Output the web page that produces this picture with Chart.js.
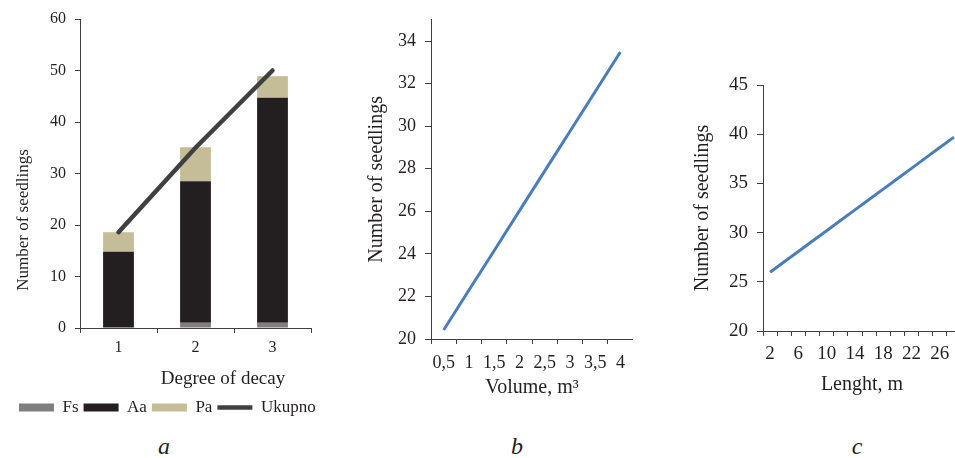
<!DOCTYPE html>
<html>
<head>
<meta charset="utf-8">
<script src="https://cdn.jsdelivr.net/npm/chart.js@4.4.1/dist/chart.umd.min.js"></script>
<style>
  body { margin: 0; background: #fff; }
  #wrap { position: relative; width: 955px; height: 458px; overflow: hidden; background: #fff;
          font-family: 'Liberation Serif', 'Times New Roman', serif; color: #231f20; }
  canvas { position: absolute; top: 0; }
  .txt { position: absolute; text-align: center; white-space: nowrap; }
  .panel { font-style: italic; font-size: 24px; line-height: 28px; width: 40px; top: 432px; }
</style>
</head>
<body>
<div id="wrap">
  <canvas id="chartA" width="340" height="430" style="left:0"></canvas>
  <canvas id="chartB" width="293" height="400" style="left:340px"></canvas>
  <canvas id="chartC" width="301" height="397" style="left:660px"></canvas>

  <div class="txt" style="left:-77px;top:210px;width:200px;font-size:17px;line-height:20px;transform:rotate(-90deg)">Number of seedlings</div>
  <div class="txt" style="left:123px;top:367px;width:200px;font-size:19px;line-height:22px">Degree of decay</div>

  <div class="txt panel" style="left:144px">a</div>
  <div class="txt panel" style="left:497px">b</div>
  <div class="txt panel" style="left:837px">c</div>
</div>

<script>
// a - seedlings per degree of decay
const decayDegrees = ['1', '2', '3'];
const fsValues = [0, 1, 1];
const aaValues = [14.8, 27.5, 43.7];
const paValues = [3.8, 6.6, 4.2];
const ukupnoValues = [18.6, 35.0, 50];

// b - seedlings vs volume
const volumeLabels = ['0,5', '1', '1,5', '2', '2,5', '3', '3,5', '4'];
const volumeSeedlings = [20.42, 22.29, 24.15, 26.02, 27.89, 29.75, 31.62, 33.49];

// c - seedlings vs length
const lengthLabels = ['2', '4', '6', '8', '10', '12', '14', '16', '18', '20', '22', '24', '26', '28'];
const lengthSeedlings = [25.97, 27.03, 28.08, 29.14, 30.19, 31.25, 32.31, 33.36, 34.42, 35.47, 36.53, 37.59, 38.64, 39.70];

const axisColor = '#404040';
const textColor = '#231f20';
Chart.defaults.font.family = "'Liberation Serif', 'Times New Roman', serif";
Chart.defaults.color = textColor;
Chart.defaults.animation = false;

function tickGrid(len) {
  return { display: true, drawOnChartArea: false, drawTicks: true, tickLength: len, color: axisColor };
}

// panel a
new Chart(document.getElementById('chartA'), {
  type: 'bar',
  data: {
    labels: decayDegrees,
    datasets: [
      { label: 'Fs', data: fsValues, backgroundColor: '#7f7f7f', pointStyle: 'rect', order: 1 },
      { label: 'Aa', data: aaValues, backgroundColor: '#231f20', pointStyle: 'rect', order: 1 },
      { label: 'Pa', data: paValues, backgroundColor: '#c4bd97', pointStyle: 'rect', order: 1 },
      {
        type: 'line', label: 'Ukupno', data: ukupnoValues, stack: 'total',
        borderColor: '#404040', backgroundColor: '#404040', borderWidth: 4.5,
        borderCapStyle: 'round', pointRadius: 0, pointStyle: 'line', tension: 0, order: 0
      }
    ]
  },
  options: {
    responsive: false,
    layout: { padding: { left: 14, right: 0, top: 19, bottom: 4 } },
    datasets: { bar: { categoryPercentage: 1, barPercentage: 0.4 } },
    plugins: {
      tooltip: { enabled: false },
      legend: {
        position: 'bottom', align: 'start',
        labels: { usePointStyle: true, pointStyleWidth: 35, boxHeight: 8, padding: 5,
                  font: { size: 17 }, color: textColor,
                  sort: (a, b) => a.datasetIndex - b.datasetIndex }
      }
    },
    scales: {
      x: {
        stacked: true,
        grid: Object.assign(tickGrid(5), { offset: true }),
        border: { color: axisColor },
        ticks: { font: { size: 16 }, padding: 5, maxRotation: 0 },
        afterFit: s => { s.height = 66; }
      },
      y: {
        stacked: true, min: 0, max: 60,
        grid: tickGrid(5),
        border: { color: axisColor },
        ticks: { stepSize: 10, font: { size: 16 }, padding: 9 },
        afterFit: s => { s.width = 66; }
      },
      yR: {
        position: 'right',
        grid: { display: false }, border: { display: false }, ticks: { display: false },
        afterFit: s => { s.width = 29; }
      }
    }
  }
});

// panel b
new Chart(document.getElementById('chartB'), {
  type: 'line',
  data: {
    labels: volumeLabels,
    datasets: [{ label: 'Number of seedlings', data: volumeSeedlings, borderColor: '#4a7ebb',
                 borderWidth: 3, pointRadius: 0, tension: 0 }]
  },
  options: {
    responsive: false,
    layout: { padding: { left: 0, right: 0, top: 17, bottom: 0 } },
    plugins: { legend: { display: false }, tooltip: { enabled: false } },
    scales: {
      x: {
        offset: true,
        grid: Object.assign(tickGrid(5), { offset: true }),
        border: { color: axisColor },
        ticks: { font: { size: 18 }, padding: 8, autoSkip: false, maxRotation: 0 },
        title: { display: true, text: 'Volume, m³', font: { size: 20 }, padding: { top: 0, bottom: 0 } },
        afterFit: s => { s.height = 61; }
      },
      y: {
        min: 20, max: 35,
        grid: tickGrid(6),
        border: { color: axisColor },
        ticks: { stepSize: 2, includeBounds: false, font: { size: 18 }, padding: 9 },
        title: { display: true, text: 'Number of seedlings', font: { size: 20 }, padding: { top: 25, bottom: 0 } },
        afterFit: s => { s.width = 91; }
      }
    }
  }
});

// panel c
new Chart(document.getElementById('chartC'), {
  type: 'line',
  data: {
    labels: lengthLabels,
    datasets: [{ label: 'Number of seedlings', data: lengthSeedlings, borderColor: '#4a7ebb',
                 borderWidth: 3, pointRadius: 0, tension: 0 }]
  },
  options: {
    responsive: false,
    layout: { padding: { left: 0, right: 0, top: 85, bottom: 0 } },
    plugins: { legend: { display: false }, tooltip: { enabled: false } },
    scales: {
      x: {
        offset: true,
        grid: Object.assign(tickGrid(5), { offset: true }),
        border: { color: axisColor },
        ticks: {
          font: { size: 19 }, padding: 7, autoSkip: false, maxRotation: 0,
          callback: function (v, i) { return i % 2 === 0 && i < 13 ? this.getLabelForValue(v) : ''; }
        },
        title: { display: true, text: 'Lenght, m', font: { size: 20 }, padding: { top: 0, bottom: 0 } },
        afterFit: s => { s.height = 66; }
      },
      y: {
        min: 20, max: 45,
        grid: tickGrid(6),
        border: { color: axisColor },
        ticks: { stepSize: 5, font: { size: 19 }, padding: 9 },
        title: { display: true, text: 'Number of seedlings', font: { size: 20 }, padding: { top: 31, bottom: 0 } },
        afterFit: s => { s.width = 103; }
      }
    }
  }
});
</script>
</body>
</html>
